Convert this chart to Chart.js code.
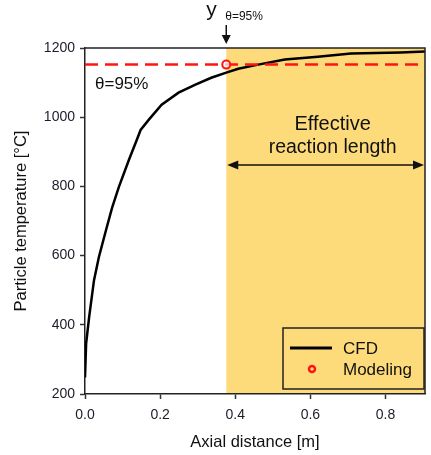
<!DOCTYPE html>
<html>
<head>
<meta charset="utf-8">
<script src="https://cdn.jsdelivr.net/npm/chart.js@4.4.0/dist/chart.umd.min.js"></script>
<style>
  html, body { margin: 0; padding: 0; background: #fff; }
  canvas { display: block; }
</style>
</head>
<body>
<canvas id="graficoTemperatura" width="431" height="455"></canvas>
<script>
// CFD profile of particle temperature along the reactor axis
const axialDistance = [0, 0.003, 0.011, 0.024, 0.037, 0.056, 0.072, 0.09, 0.117, 0.138, 0.148, 0.17, 0.204, 0.249, 0.294, 0.336, 0.376, 0.408, 0.461, 0.532, 0.62, 0.708, 0.84, 0.905]
const cfdTemperature = [248, 346, 422, 529, 596, 674, 738, 798, 877, 935, 963, 993, 1036, 1071, 1094, 1114, 1129, 1140, 1152, 1167, 1175, 1184, 1187, 1190]

// modeling point where theta reaches 95 %
const modelingDistance = [0.376]
const modelingTemperature = [1152]
const theta95Temperature = 1152
const axialMax = 0.905

const yTicks = [200, 400, 600, 800, 1000, 1200]
const xTicks = [0, 0.2, 0.4, 0.6, 0.8]

const fonte = "'Liberation Sans', Arial, sans-serif"
const laranja = 'rgb(253, 218, 122)'
const vermelho = '#ff1414'

function seta(ctx, x, y, ang, len, larg) {
	ctx.save()
	ctx.translate(x, y)
	ctx.rotate(ang)
	ctx.beginPath()
	ctx.moveTo(0, 0)
	ctx.lineTo(-len, -larg / 2)
	ctx.lineTo(-len, larg / 2)
	ctx.closePath()
	ctx.fill()
	ctx.restore()
}

const decoracao = {
	id: 'decoracao',
	beforeDraw(chart) {
		const { ctx, chartArea } = chart
		const xs = chart.scales.x
		const x0 = xs.getPixelForValue(modelingDistance[0])
		ctx.save()
		ctx.fillStyle = laranja
		ctx.fillRect(x0, chartArea.top, chartArea.right - x0, chartArea.bottom - chartArea.top)
		ctx.restore()
	},
	afterDraw(chart) {
		const { ctx, chartArea } = chart
		const xs = chart.scales.x
		const ys = chart.scales.y
		const x0 = xs.getPixelForValue(modelingDistance[0])
		ctx.save()

		// frame top and right
		ctx.strokeStyle = '#222'
		ctx.lineWidth = 1.5
		ctx.beginPath()
		ctx.moveTo(chartArea.left, chartArea.top)
		ctx.lineTo(chartArea.right, chartArea.top)
		ctx.lineTo(chartArea.right, chartArea.bottom)
		ctx.stroke()

		ctx.fillStyle = '#111'
		ctx.strokeStyle = '#111'

		// theta label under the dashed line
		ctx.font = '17px ' + fonte
		ctx.textBaseline = 'middle'
		ctx.textAlign = 'left'
		ctx.fillText('θ=95%', chartArea.left + 10, ys.getPixelForValue(theta95Temperature) + 20)

		// y_theta=95% marker above the plot
		ctx.textBaseline = 'alphabetic'
		ctx.font = '21px ' + fonte
		ctx.fillText('y', x0 - 20, 16)
		ctx.font = '12px ' + fonte
		ctx.fillText('θ=95%', x0 - 1, 20)
		ctx.lineWidth = 1.5
		ctx.beginPath()
		ctx.moveTo(x0, 25)
		ctx.lineTo(x0, 38)
		ctx.stroke()
		seta(ctx, x0, chartArea.top - 4, Math.PI / 2, 9, 9)

		// effective reaction length
		const cx = (x0 + chartArea.right) / 2 + 7
		ctx.font = '20px ' + fonte
		ctx.textAlign = 'center'
		ctx.textBaseline = 'middle'
		ctx.fillText('Effective', cx, 124)
		ctx.font = '19.5px ' + fonte
		ctx.fillText('reaction length', cx, 148)
		const ya = 165
		ctx.lineWidth = 1.5
		ctx.beginPath()
		ctx.moveTo(x0 + 6, ya)
		ctx.lineTo(chartArea.right - 6, ya)
		ctx.stroke()
		seta(ctx, x0 + 1, ya, Math.PI, 11, 9)
		seta(ctx, chartArea.right - 1, ya, 0, 11, 9)

		// legend box
		const lx = 283, ly = 328, lw = chartArea.right - 1 - lx, lh = 61
		ctx.lineWidth = 1.5
		ctx.strokeStyle = '#222'
		ctx.strokeRect(lx, ly, lw, lh)
		ctx.strokeStyle = '#000'
		ctx.lineWidth = 3
		ctx.beginPath()
		ctx.moveTo(290, 348)
		ctx.lineTo(332, 348)
		ctx.stroke()
		ctx.strokeStyle = vermelho
		ctx.lineWidth = 2.5
		ctx.beginPath()
		ctx.arc(312, 369, 3, 0, Math.PI * 2)
		ctx.stroke()
		ctx.fillStyle = '#111'
		ctx.font = '17px ' + fonte
		ctx.textAlign = 'left'
		ctx.fillText(chart.data.datasets[0].label, 343, 349)
		ctx.fillText(chart.data.datasets[2].label, 343, 370)

		ctx.restore()
	}
}

var configChart = {
	type: 'scatter',
	data: {
		datasets: [{
			label: 'CFD',
			data: axialDistance.map((x, i) => ({ x: x, y: cfdTemperature[i] })),
			showLine: true,
			borderColor: '#000',
			borderWidth: 2.5,
			pointRadius: 0,
			tension: 0,
			order: 2,
		}, {
			label: 'θ=95%',
			data: [{ x: 0, y: theta95Temperature }, { x: axialMax, y: theta95Temperature }],
			showLine: true,
			borderColor: vermelho,
			borderWidth: 2.5,
			borderDash: [13, 7],
			pointRadius: 0,
			order: 1,
		}, {
			label: 'Modeling',
			data: modelingDistance.map((x, i) => ({ x: x, y: modelingTemperature[i] })),
			showLine: false,
			pointRadius: 4,
			pointBorderWidth: 2,
			pointBorderColor: vermelho,
			pointBackgroundColor: 'rgba(255,255,255,0.7)',
			order: 0,
		}]
	},
	options: {
		responsive: false,
		devicePixelRatio: 1,
		animation: false,
		layout: {
			padding: { left: 0, right: 3, top: 48, bottom: 0 }
		},
		plugins: {
			legend: { display: false },
			tooltip: { enabled: false },
		},
		scales: {
			x: {
				type: 'linear',
				min: 0,
				max: axialMax,
				afterFit(scale) { scale.height = 61 },
				afterBuildTicks(scale) { scale.ticks = xTicks.map(v => ({ value: v })) },
				grid: { drawOnChartArea: false, tickLength: 5, tickColor: '#333', tickWidth: 1.5 },
				border: { color: '#222', width: 1.5 },
				ticks: {
					padding: 8,
					color: '#1c1c2a',
					font: { family: fonte, size: 14 },
					callback: v => v.toFixed(1),
				},
				title: {
					display: true,
					text: 'Axial distance [m]',
					color: '#111',
					font: { family: fonte, size: 16.5 },
					padding: { top: 0, bottom: 3 },
				},
			},
			y: {
				min: 200,
				max: 1200,
				afterFit(scale) { scale.width = 85 },
				afterBuildTicks(scale) { scale.ticks = yTicks.map(v => ({ value: v })) },
				grid: { drawOnChartArea: false, tickLength: 5, tickColor: '#333', tickWidth: 1.5 },
				border: { color: '#222', width: 1.5 },
				ticks: {
					padding: 5,
					color: '#1c1c2a',
					font: { family: fonte, size: 14 },
					callback: v => String(v),
				},
				title: {
					display: true,
					text: 'Particle temperature [°C]',
					color: '#111',
					font: { family: fonte, size: 16.5 },
					padding: { top: 12, bottom: 0 },
				},
			},
		},
	},
	plugins: [decoracao],
}

var ctx = document.getElementById('graficoTemperatura').getContext('2d')
window.graficoTemp = new Chart(ctx, configChart)
</script>
</body>
</html>
